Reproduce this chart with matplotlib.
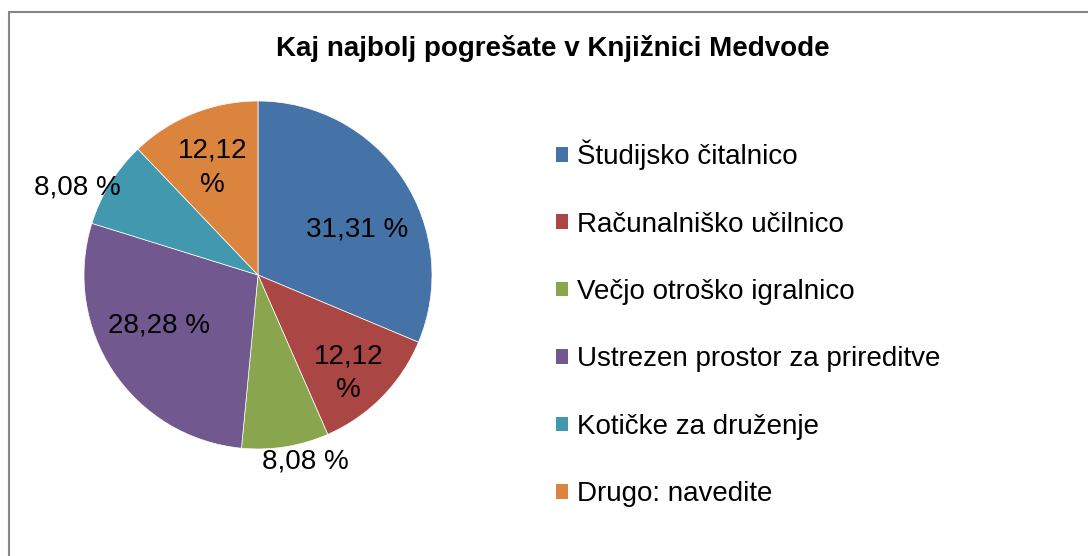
import matplotlib
matplotlib.use('Agg')
import matplotlib.pyplot as plt
from matplotlib.patches import Rectangle, Patch

plt.rcParams['font.family'] = ['Liberation Sans', 'DejaVu Sans']

# Data
categories = ['Študijsko čitalnico', 'Računalniško učilnico', 'Večjo otroško igralnico',
              'Ustrezen prostor za prireditve', 'Kotičke za druženje', 'Drugo: navedite']
counts = [31, 12, 8, 28, 8, 12]
value_labels = ['31,31 %', '12,12\n%', '8,08 %', '28,28 %', '8,08 %', '12,12\n%']
colors = ['#4572A7', '#AA4643', '#89A54E', '#71588F', '#4198AF', '#DB843D']

W, H = 1088, 556
fig = plt.figure(figsize=(W / 100, H / 100), dpi=100)

# Outer chart frame (cut off at right and bottom like the screenshot)
fig.patches.append(Rectangle((9 / W, -0.1), 1.2, 1 - 12 / H + 0.1, transform=fig.transFigure,
                             fill=False, edgecolor='#868686', linewidth=1.5))

# Pie axes: centre (258, 275) px, radius 174 px
cx, cy, r = 258, 275, 174
ax = fig.add_axes([(cx - r) / W, 1 - (cy + r) / H, 2 * r / W, 2 * r / H])
wedges, _ = ax.pie(counts, colors=colors, startangle=90, counterclock=False,
                   wedgeprops=dict(edgecolor='white', linewidth=0.5))
ax.set_xlim(-1, 1)
ax.set_ylim(-1, 1)
ax.set_aspect('equal')
ax.axis('off')

# label positions, in radius units
label_pos = [(0.57, 0.26), (0.52, -0.565), (0.27, -1.07), (-0.57, -0.29), (-1.04, 0.50), (-0.26, 0.615)]
for (x, y), txt in zip(label_pos, value_labels):
    ax.text(x, y, txt, ha='center', va='center', fontsize=20, color='black',
            linespacing=1.4)

fig.text(553 / W, 1 - 48 / H, 'Kaj najbolj pogrešate v Knjižnici Medvode',
         ha='center', va='center', fontsize=20, fontweight='bold')

handles = [Patch(facecolor=c, edgecolor='none') for c in colors]
fig.legend(handles, categories, loc='center left', bbox_to_anchor=(556 / W, 1 - 323.5 / H),
           frameon=False, fontsize=20, handlelength=0.43, handleheight=0.43,
           handletextpad=0.32, labelspacing=1.49, borderaxespad=0, borderpad=0)

fig.savefig('out.png', dpi=100, facecolor='white')
